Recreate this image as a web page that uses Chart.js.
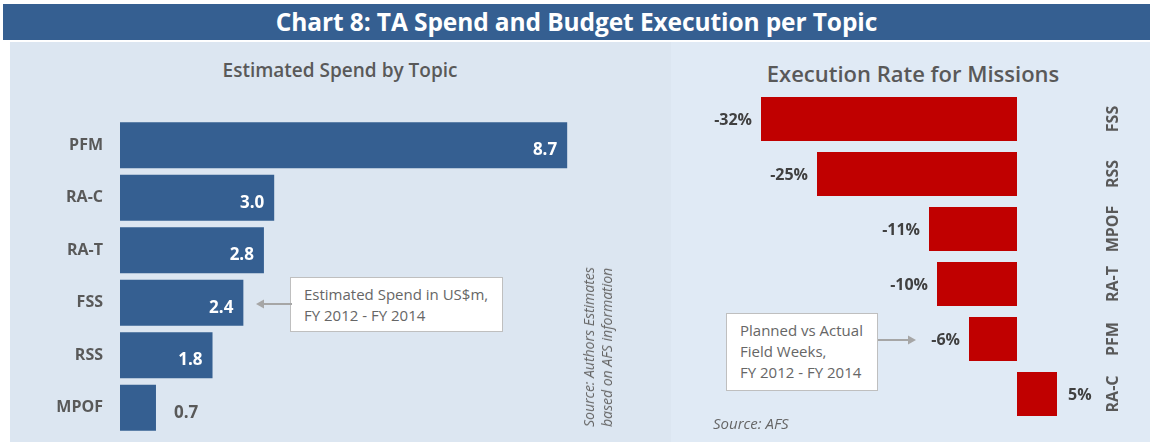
<!DOCTYPE html>
<html>
<head>
<meta charset="utf-8">
<script src="https://cdn.jsdelivr.net/npm/chart.js@4"></script>
<style>
  body { margin: 0; width: 1152px; height: 443px; background: #fff; position: relative; overflow: hidden; font-family: 'Open Sans', sans-serif; }
  .bar-title { position: absolute; left: 3px; top: 4px; width: 1147px; height: 36px; background: #355f91; color: #fff; font-weight: 700; font-size: 24.5px; line-height: 36px; text-align: center; letter-spacing: -0.1px; }
  .panel { position: absolute; top: 42px; height: 400px; }
  #leftPanel { left: 10px; width: 661px; background: #dce6f1; }
  #rightPanel { left: 671px; width: 479px; background: #e0eaf5; }
  .sub-title { position: absolute; color: #595959; font-weight: 600; white-space: nowrap; transform: translateX(-50%); }
  .note { position: absolute; background: #fff; border: 1px solid #bfbfbf; color: #666; font-size: 15px; line-height: 21px; padding: 6px 8px 0 13px; box-sizing: border-box; white-space: nowrap; }
  .src { position: absolute; color: #666; font-style: italic; font-size: 14px; white-space: nowrap; }
  canvas { position: absolute; }
</style>
</head>
<body>
<div class="bar-title">Chart 8: TA Spend and Budget Execution per Topic</div>
<div class="panel" id="leftPanel"></div>
<div class="panel" id="rightPanel"></div>

<div class="sub-title" style="left:340px; top:57px; font-size:19px;">Estimated Spend by Topic</div>
<div class="sub-title" style="left:913px; top:58px; font-size:22px;">Execution Rate for Missions</div>

<div style="position:absolute; left:0; top:41px; width:670px; height:402px;"><canvas id="spendChart"></canvas></div>
<div style="position:absolute; left:650px; top:41px; width:502px; height:402px;"><canvas id="execChart"></canvas></div>

<div class="note" style="left:290px; top:277px; width:213px; height:55px;">Estimated Spend in US$m,<br>FY 2012 - FY 2014</div>
<svg style="position:absolute; left:252px; top:297px;" width="40" height="14">
  <line x1="40" y1="7" x2="10" y2="7" stroke="#a6a6a6" stroke-width="2"/>
  <polygon points="4,7 12,2.5 12,11.5" fill="#a6a6a6"/>
</svg>

<div class="note" style="left:726px; top:313px; width:152px; height:78px;">Planned vs Actual<br>Field Weeks,<br>FY 2012 - FY 2014</div>
<svg style="position:absolute; left:878px; top:333px;" width="42" height="14">
  <line x1="0" y1="7" x2="32" y2="7" stroke="#a6a6a6" stroke-width="2"/>
  <polygon points="38,7 30,2.5 30,11.5" fill="#a6a6a6"/>
</svg>

<div class="src" style="left:598px; top:347px; transform: translate(-50%,-50%) rotate(-90deg); line-height:18px;">Source: Authors Estimates<br>based on AFS information</div>
<div class="src" style="left:713px; top:413px; font-size:15px;">Source: AFS</div>

<script>
const spendTopics = ['PFM', 'RA-C', 'RA-T', 'FSS', 'RSS', 'MPOF'];
const spendValues = [8.7, 3.0, 2.8, 2.4, 1.8, 0.7];
const spendLabels = ['8.7', '3.0', '2.8', '2.4', '1.8', '0.7'];

const execTopics = ['FSS', 'RSS', 'MPOF', 'RA-T', 'PFM', 'RA-C'];
const execValues = [-32, -25, -11, -10, -6, 5];
const execLabels = ['-32%', '-25%', '-11%', '-10%', '-6%', '5%'];

Chart.defaults.font.family = "'Open Sans', sans-serif";
Chart.defaults.animation = false;

const grey = '#595959';

// left chart: category names on the left, values inside the bar end (small bars outside)
const spendLabelPlugin = {
  id: 'spendLabels',
  afterDatasetsDraw(chart) {
    const { ctx } = chart;
    const meta = chart.getDatasetMeta(0);
    ctx.save();
    ctx.textBaseline = 'middle';
    meta.data.forEach((bar, i) => {
      ctx.font = "bold 16px 'Open Sans', sans-serif";
      ctx.fillStyle = grey;
      ctx.textAlign = 'right';
      ctx.fillText(spendTopics[i], 103, bar.y);

      ctx.font = "bold 17px 'Open Sans', sans-serif";
      const y = bar.y + 5;
      if (spendValues[i] < 1) {
        ctx.textAlign = 'left';
        ctx.fillText(spendLabels[i], bar.x + 18, y);
      } else {
        ctx.fillStyle = '#fff';
        ctx.textAlign = 'right';
        ctx.fillText(spendLabels[i], bar.x - 10, y);
      }
    });
    ctx.restore();
  },
};

// right chart: value labels beside bars and rotated category labels on the right
const execLabelPlugin = {
  id: 'execLabels',
  afterDatasetsDraw(chart) {
    const { ctx } = chart;
    const meta = chart.getDatasetMeta(0);
    const zero = chart.scales.x.getPixelForValue(0);
    ctx.save();
    ctx.textBaseline = 'middle';
    meta.data.forEach((bar, i) => {
      ctx.font = "bold 16px 'Open Sans', sans-serif";
      ctx.fillStyle = '#404040';
      if (execValues[i] < 0) {
        ctx.textAlign = 'right';
        ctx.fillText(execLabels[i], Math.min(bar.x, zero) - 9, bar.y + 1);
      } else {
        ctx.textAlign = 'left';
        ctx.fillText(execLabels[i], bar.x + 11, bar.y + 1);
      }
      ctx.save();
      ctx.translate(463, bar.y);
      ctx.rotate(-Math.PI / 2);
      ctx.textAlign = 'center';
      ctx.font = "bold 16px 'Open Sans', sans-serif";
      ctx.fillStyle = grey;
      ctx.fillText(execTopics[i], 0, 0);
      ctx.restore();
    });
    ctx.restore();
  },
};

new Chart(document.getElementById('spendChart'), {
  type: 'bar',
  data: {
    labels: spendTopics,
    datasets: [{
      data: spendValues,
      backgroundColor: '#355f91',
      barPercentage: 0.875,
      categoryPercentage: 1,
    }],
  },
  options: {
    indexAxis: 'y',
    responsive: true,
    maintainAspectRatio: false,
    layout: { padding: { top: 78, bottom: 9, left: 120, right: 36 } },
    plugins: { legend: { display: false }, tooltip: { enabled: false } },
    scales: {
      x: { min: 0, max: 10, display: false },
      y: { display: false },
    },
  },
  plugins: [spendLabelPlugin],
});

new Chart(document.getElementById('execChart'), {
  type: 'bar',
  data: {
    labels: execTopics,
    datasets: [{
      data: execValues,
      backgroundColor: '#c00000',
      barPercentage: 0.8,
      categoryPercentage: 1,
    }],
  },
  options: {
    indexAxis: 'y',
    responsive: true,
    maintainAspectRatio: false,
    layout: { padding: { top: 50.5, bottom: 21.5, left: 87, right: 55 } },
    plugins: { legend: { display: false }, tooltip: { enabled: false } },
    scales: {
      x: { min: -35, max: 10, display: false },
      y: { display: false },
    },
  },
  plugins: [execLabelPlugin],
});
</script>
</body>
</html>
